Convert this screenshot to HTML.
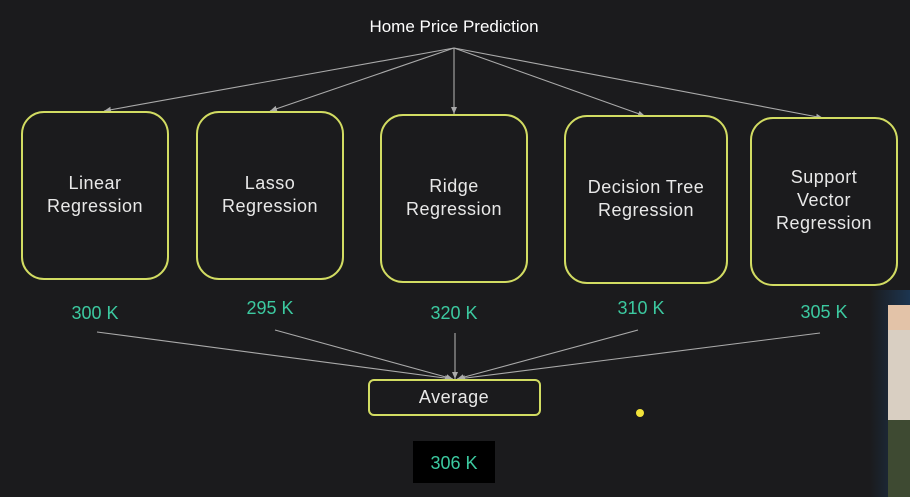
<!DOCTYPE html>
<html><head><meta charset="utf-8"><style>
html,body{margin:0;padding:0;background:#1b1b1d;}
svg{display:block;}
text{font-family:"Liberation Sans",sans-serif;}
</style></head><body>
<svg width="910" height="497" viewBox="0 0 910 497" xmlns="http://www.w3.org/2000/svg">
<defs>
<marker id="a" markerWidth="8" markerHeight="8" refX="7" refY="4" orient="auto" markerUnits="userSpaceOnUse">
<path d="M0,1 L7,4 L0,7 z" fill="#aaa"/></marker>
<linearGradient id="g" x1="0" x2="1"><stop offset="0" stop-color="#1b1b1d"/><stop offset="1" stop-color="#1c3550"/></linearGradient>
</defs>
<rect width="910" height="497" fill="#1b1b1d"/>
<rect x="870" y="290" width="40" height="207" fill="url(#g)"/>
<rect x="888" y="305" width="22" height="192" rx="10" fill="#d9cfc2"/>
<rect x="888" y="305" width="22" height="25" fill="#e3c3a8"/>
<rect x="888" y="420" width="22" height="77" fill="#3e4a32"/>
<text x="454" y="32" fill="#fff" font-size="17" text-anchor="middle">Home Price Prediction</text>
<g stroke="#aaa" stroke-width="1.1" fill="none" marker-end="url(#a)">
<line x1="454" y1="48" x2="104" y2="111"/>
<line x1="454" y1="48" x2="270" y2="111"/>
<line x1="454" y1="48" x2="454" y2="114"/>
<line x1="454" y1="48" x2="645" y2="116"/>
<line x1="454" y1="48" x2="823" y2="118"/>
<line x1="97" y1="332" x2="452" y2="379"/>
<line x1="275" y1="330" x2="453" y2="379"/>
<line x1="455" y1="333" x2="455" y2="379"/>
<line x1="638" y1="330" x2="457" y2="379"/>
<line x1="820" y1="333" x2="458" y2="379"/>
</g>
<g fill="#1b1b1d" stroke="#d2dc62" stroke-width="2">
<rect x="22" y="112" width="146" height="167" rx="22"/>
<rect x="197" y="112" width="146" height="167" rx="22"/>
<rect x="381" y="115" width="146" height="167" rx="22"/>
<rect x="565" y="116" width="162" height="167" rx="22"/>
<rect x="751" y="118" width="146" height="167" rx="22"/>
<rect x="369" y="380" width="171" height="35" rx="5"/>
</g>
<g fill="#e8e8e8" font-size="18" text-anchor="middle" letter-spacing="0.5">
<text x="95" y="189">Linear</text><text x="95" y="212">Regression</text>
<text x="270" y="189">Lasso</text><text x="270" y="212">Regression</text>
<text x="454" y="192">Ridge</text><text x="454" y="215">Regression</text>
<text x="646" y="193">Decision Tree</text><text x="646" y="216">Regression</text>
<text x="824" y="183">Support</text><text x="824" y="206">Vector</text><text x="824" y="229">Regression</text>
<text x="454" y="403">Average</text>
</g>
<rect x="413" y="441" width="82" height="42" fill="#000"/>
<g fill="#3cc9a0" font-size="18" text-anchor="middle">
<text x="95" y="319">300 K</text>
<text x="270" y="314">295 K</text>
<text x="454" y="319">320 K</text>
<text x="641" y="314">310 K</text>
<text x="824" y="318">305 K</text>
<text x="454" y="469">306 K</text>
</g>
<circle cx="640" cy="413" r="4" fill="#f2e33a"/>
</svg>
</body></html>
